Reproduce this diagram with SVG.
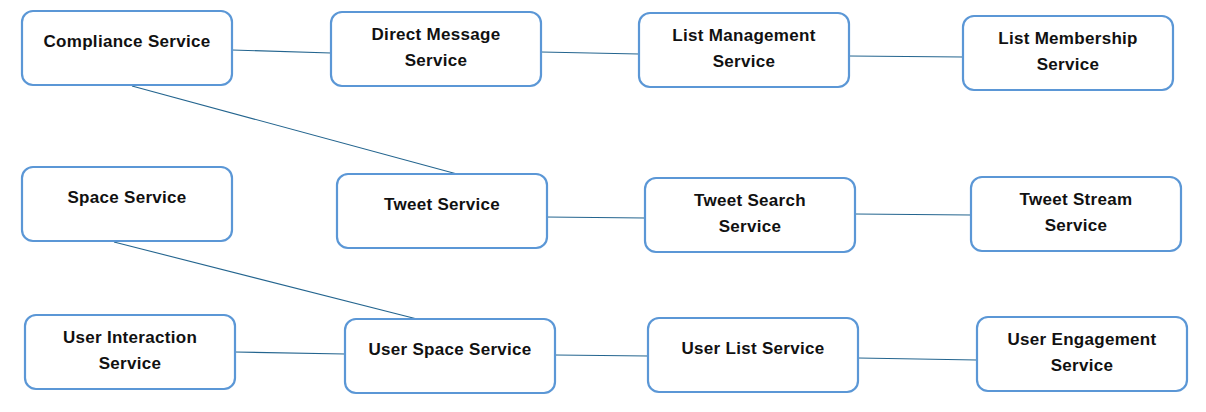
<svg xmlns="http://www.w3.org/2000/svg" width="1206" height="412" viewBox="0 0 1206 412">
<style>
.box{fill:#fff;stroke:#5B97D6;stroke-width:2.2}
.t{font-family:"Liberation Sans",Arial,sans-serif;font-weight:bold;font-size:17px;letter-spacing:0.3px;fill:#111;text-anchor:middle}
.c line{stroke:#24658F;stroke-width:1.1}
</style>
<rect width="1206" height="412" fill="#fff"/>
<g class="c" id="connectors">
<line x1="232" y1="50" x2="331" y2="53"/>
<line x1="541" y1="52" x2="639" y2="54"/>
<line x1="849" y1="56" x2="963" y2="57"/>
<line x1="132" y1="86" x2="457" y2="174"/>
<line x1="545" y1="217" x2="645" y2="218"/>
<line x1="855" y1="214" x2="971" y2="215"/>
<line x1="114" y1="242" x2="417" y2="319"/>
<line x1="235" y1="352" x2="345" y2="354"/>
<line x1="555" y1="355" x2="648" y2="356"/>
<line x1="858" y1="358" x2="977" y2="360"/>
</g>
<g id="compliance"><rect class="box" x="22" y="11" width="210" height="74" rx="11"/><text class="t" x="127" y="47">Compliance Service</text></g>
<g id="direct-message"><rect class="box" x="331" y="12" width="210" height="74" rx="11"/><text class="t" x="436" y="40">Direct Message</text><text class="t" x="436" y="66">Service</text></g>
<g id="list-management"><rect class="box" x="639" y="13" width="210" height="74" rx="11"/><text class="t" x="744" y="41">List Management</text><text class="t" x="744" y="67">Service</text></g>
<g id="list-membership"><rect class="box" x="963" y="16" width="210" height="74" rx="11"/><text class="t" x="1068" y="44">List Membership</text><text class="t" x="1068" y="70">Service</text></g>
<g id="space"><rect class="box" x="22" y="167" width="210" height="74" rx="11"/><text class="t" x="127" y="203">Space Service</text></g>
<g id="tweet"><rect class="box" x="337" y="174" width="210" height="74" rx="11"/><text class="t" x="442" y="210">Tweet Service</text></g>
<g id="tweet-search"><rect class="box" x="645" y="178" width="210" height="74" rx="11"/><text class="t" x="750" y="206">Tweet Search</text><text class="t" x="750" y="232">Service</text></g>
<g id="tweet-stream"><rect class="box" x="971" y="177" width="210" height="74" rx="11"/><text class="t" x="1076" y="205">Tweet Stream</text><text class="t" x="1076" y="231">Service</text></g>
<g id="user-interaction"><rect class="box" x="25" y="315" width="210" height="74" rx="11"/><text class="t" x="130" y="343">User Interaction</text><text class="t" x="130" y="369">Service</text></g>
<g id="user-space"><rect class="box" x="345" y="319" width="210" height="74" rx="11"/><text class="t" x="450" y="355">User Space Service</text></g>
<g id="user-list"><rect class="box" x="648" y="318" width="210" height="74" rx="11"/><text class="t" x="753" y="354">User List Service</text></g>
<g id="user-engagement"><rect class="box" x="977" y="317" width="210" height="74" rx="11"/><text class="t" x="1082" y="345">User Engagement</text><text class="t" x="1082" y="371">Service</text></g>
</svg>
